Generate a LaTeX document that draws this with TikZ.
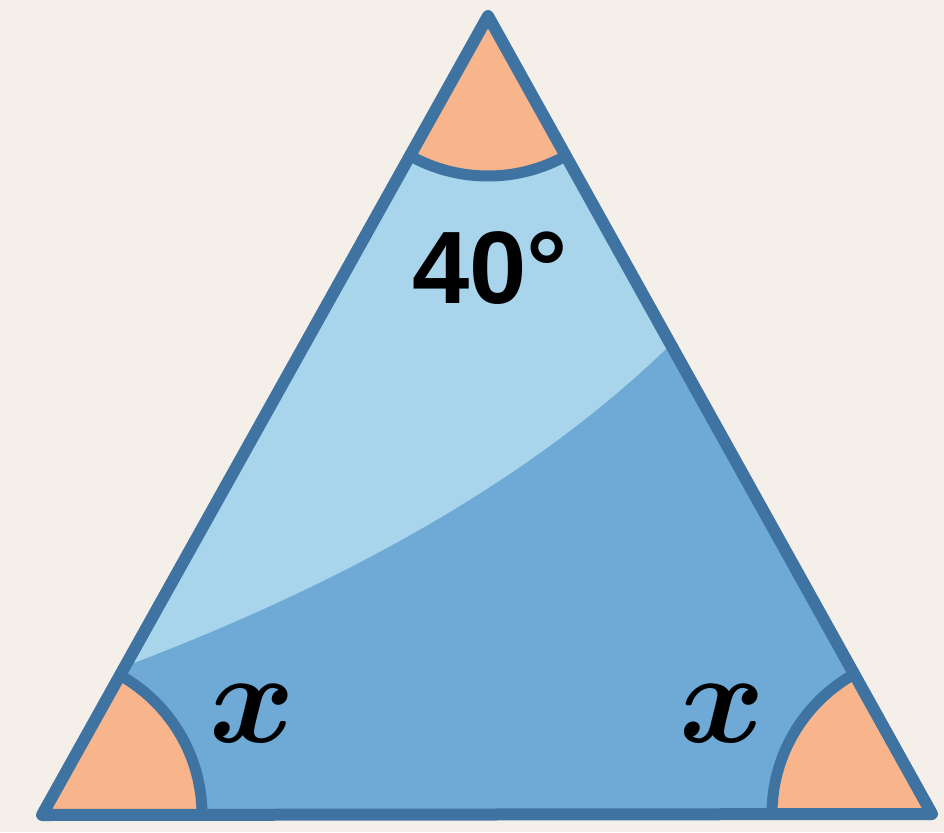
\RequirePackage{fix-cm}
\documentclass[tikz,border=0pt]{standalone}
\usepackage{fontspec}
\setsansfont{Liberation Sans}
\definecolor{paper}{HTML}{F4EFE9}
\definecolor{rim}{HTML}{3F73A1}
\definecolor{deepblue}{HTML}{6FAAD6}
\definecolor{paleblue}{HTML}{A8D4EC}
\definecolor{peach}{HTML}{F8B48A}
\begin{document}
\begin{tikzpicture}[x=1pt, y=-1pt,
  edge/.style={draw=rim, line width=12pt, line join=round},
  wedge/.style={fill=peach},
  wedgearc/.style={draw=rim, line width=11pt},
  deg/.style={font=\fontsize{103}{103}\selectfont\sffamily\bfseries},
  var/.style={font=\fontsize{130}{130}\selectfont\boldmath}
]
%% Page and background
\useasboundingbox (0,0) rectangle (944,832);
\fill[paper] (0,0) rectangle (944,832);

%% Corners of the triangle
\coordinate (apex) at (488,16);
\coordinate (left) at (42,815);
\coordinate (right) at (932,814);

%% Body with highlight
\fill[deepblue] (apex) -- (left) -- (right) -- cycle;
\begin{scope}
  \clip (apex) -- (left) -- (right) -- cycle;
  \fill[paleblue] (110,672) .. controls (330,590) and (540,480) .. (690,325)
    -- (690,0) -- (0,0) -- (0,672) -- cycle;
  %% Angle wedges
  \foreach \c in {apex, left, right} {
    \fill[wedge] (\c) circle (160);
    \draw[wedgearc] (\c) circle (160);
  }
\end{scope}
\draw[edge] (apex) -- (left) -- (right) -- cycle;

%% Labels
\node[deg] (top) at (490,268) {40°};
\node[var] (xleft) at (252,714) {$x$};
\node[var] (xright) at (722,714) {$x$};
\end{tikzpicture}
\end{document}
